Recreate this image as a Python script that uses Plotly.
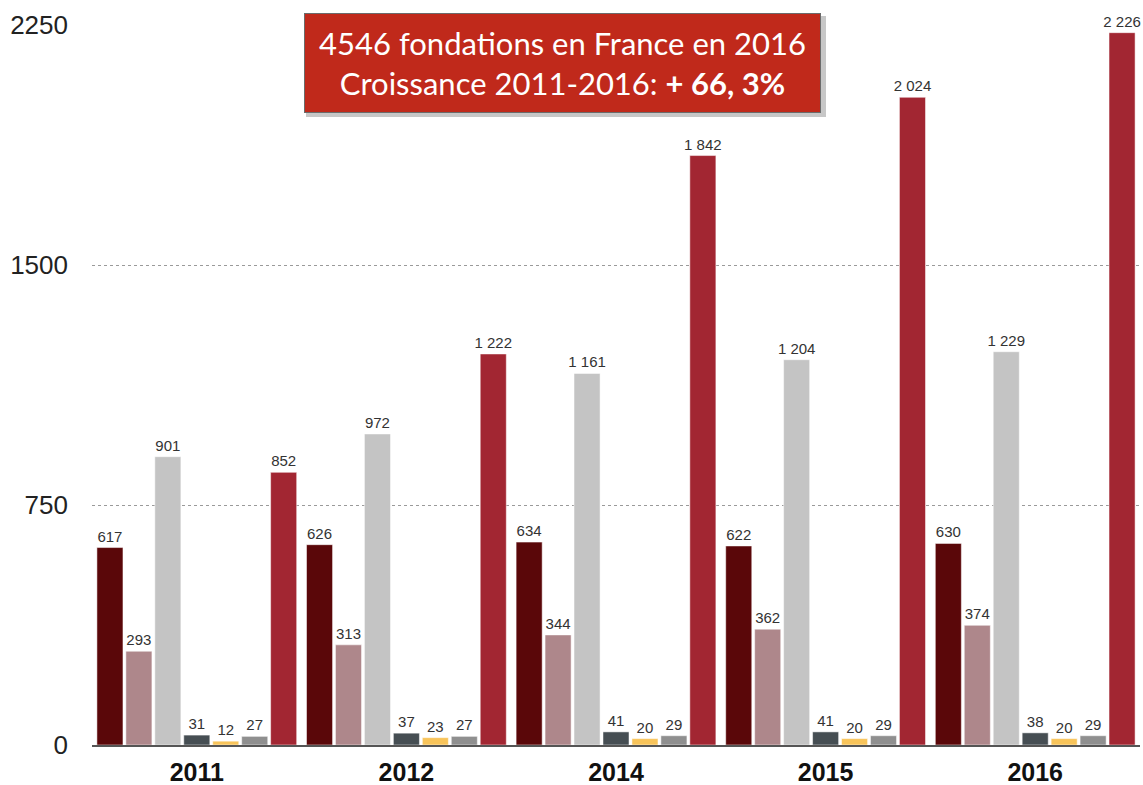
import plotly.graph_objects as go

years = ["2011", "2012", "2014", "2015", "2016"]
series_names = ["Série 1", "Série 2", "Série 3", "Série 4", "Série 5", "Série 6", "Série 7"]
s1 = [617, 626, 634, 622, 630]
s2 = [293, 313, 344, 362, 374]
s3 = [901, 972, 1161, 1204, 1229]
s4 = [31, 37, 41, 41, 38]
s5 = [12, 23, 20, 20, 20]
s6 = [27, 27, 29, 29, 29]
s7 = [852, 1222, 1842, 2024, 2226]
colors = ["#5A0709", "#AE878B", "#C4C4C4", "#464E53", "#F8C45A", "#8F8F8F", "#A22632"]
y_ticks = [0, 750, 1500, 2250]

L, R, T, B = 92, 3, 25, 40
W, H = 1143, 785
PW, PH = W - L - R, H - T - B


def fmt(v):
    return f"{v:,}".replace(",", " ")


def px_x(x):
    return (x - L) / PW


def px_y(y):
    return (H - B - y) / PH


fig = go.Figure()
for name, vals, col in zip(series_names, [s1, s2, s3, s4, s5, s6, s7], colors):
    fig.add_trace(go.Bar(
        x=years, y=vals, name=name,
        marker=dict(color=col, line=dict(color="white", width=0.5)),
        text=[fmt(v) for v in vals],
        textposition="outside",
        textangle=0,
        textfont=dict(family="Liberation Sans, Arial, sans-serif", size=15, color="#333333"),
        cliponaxis=False,
        constraintext="none",
        hoverinfo="skip",
    ))

fig.update_layout(
    width=W, height=H,
    margin=dict(l=L, r=R, t=T, b=B),
    paper_bgcolor="white", plot_bgcolor="white",
    barmode="group", bargap=0.033, bargroupgap=0.1,
    showlegend=False,
    xaxis=dict(
        type="category", automargin=False,
        showline=True, linecolor="#555555", linewidth=2,
        showgrid=False, ticks="",
        tickfont=dict(family="Liberation Sans, Arial, sans-serif", size=25, color="#111111", weight="bold"),
        ticklabelstandoff=4,
    ),
    yaxis=dict(
        range=[0, 2250], automargin=False,
        tickvals=y_ticks,
        ticktext=[str(v) for v in y_ticks],
        showgrid=True, gridcolor="#9a9a9a", gridwidth=1, griddash="dot",
        zeroline=False, showline=False, ticks="",
        tickfont=dict(family="Liberation Sans, Arial, sans-serif", size=26, color="#222222"),
        ticklabelstandoff=23,
    ),
)

# shadow of the annotation box
fig.add_shape(type="rect", xref="paper", yref="paper",
              x0=px_x(306), x1=px_x(826),
              y0=px_y(117), y1=px_y(16),
              fillcolor="rgba(0,0,0,0.22)", line=dict(width=0))

fig.add_annotation(
    xref="paper", yref="paper",
    x=px_x(562.5), y=px_y(63),
    xanchor="center", yanchor="middle",
    text="4546 fondations en France en 2016<br>Croissance 2011-2016: <b>+ 66, 3%</b>",
    showarrow=False,
    font=dict(family="Lato, Open Sans, sans-serif", size=31, color="white"),
    bgcolor="#C0291B", bordercolor="#6b6b6b", borderwidth=1,
    borderpad=10, width=495, height=78, align="center",
)

fig.write_html(
    "out.html",
    config={"displayModeBar": False, "staticPlot": True},
    post_script="document.body.style.margin='0';document.body.style.overflow='hidden';",
)
